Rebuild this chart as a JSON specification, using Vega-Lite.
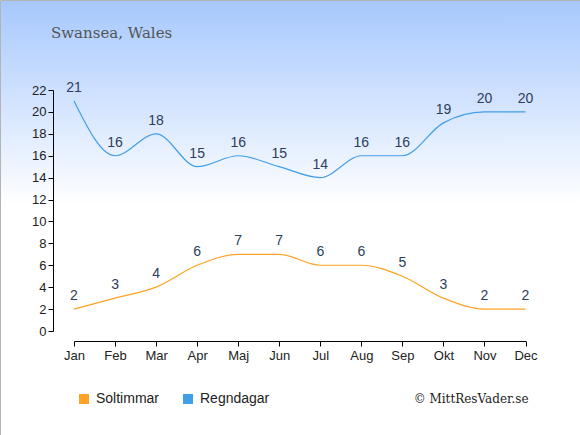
{
  "$schema": "https://vega.github.io/schema/vega-lite/v6.json",
  "width": 580,
  "height": 435,
  "autosize": {"type": "none"},
  "padding": 0,
  "background": "#ffffff",
  "view": {
    "fill": {"gradient": "linear", "x1": 0, "y1": 0, "x2": 0, "y2": 1,
      "stops": [{"offset": 0, "color": "#a6c8fe"}, {"offset": 0.47, "color": "#ffffff"}, {"offset": 1, "color": "#ffffff"}]},
    "stroke": "#b4b4b4",
    "strokeWidth": 1
  },
  "title": {
    "text": "Swansea, Wales",
    "font": "DejaVu Serif",
    "fontSize": 15,
    "fontWeight": "normal",
    "color": "#555555",
    "anchor": "start",
    "frame": "group",
    "orient": "top",
    "baseline": "alphabetic",
    "offset": -53,
    "dx": 51
  },
  "data": {
    "values": [
      {"month": "Jan", "series": "Soltimmar", "value": 2},
      {"month": "Feb", "series": "Soltimmar", "value": 3},
      {"month": "Mar", "series": "Soltimmar", "value": 4},
      {"month": "Apr", "series": "Soltimmar", "value": 6},
      {"month": "Maj", "series": "Soltimmar", "value": 7},
      {"month": "Jun", "series": "Soltimmar", "value": 7},
      {"month": "Jul", "series": "Soltimmar", "value": 6},
      {"month": "Aug", "series": "Soltimmar", "value": 6},
      {"month": "Sep", "series": "Soltimmar", "value": 5},
      {"month": "Okt", "series": "Soltimmar", "value": 3},
      {"month": "Nov", "series": "Soltimmar", "value": 2},
      {"month": "Dec", "series": "Soltimmar", "value": 2},
      {"month": "Jan", "series": "Regndagar", "value": 21},
      {"month": "Feb", "series": "Regndagar", "value": 16},
      {"month": "Mar", "series": "Regndagar", "value": 18},
      {"month": "Apr", "series": "Regndagar", "value": 15},
      {"month": "Maj", "series": "Regndagar", "value": 16},
      {"month": "Jun", "series": "Regndagar", "value": 15},
      {"month": "Jul", "series": "Regndagar", "value": 14},
      {"month": "Aug", "series": "Regndagar", "value": 16},
      {"month": "Sep", "series": "Regndagar", "value": 16},
      {"month": "Okt", "series": "Regndagar", "value": 19},
      {"month": "Nov", "series": "Regndagar", "value": 20},
      {"month": "Dec", "series": "Regndagar", "value": 20}
    ]
  },
  "encoding": {
    "x": {
      "field": "month",
      "type": "ordinal",
      "sort": ["Jan", "Feb", "Mar", "Apr", "Maj", "Jun", "Jul", "Aug", "Sep", "Okt", "Nov", "Dec"],
      "scale": {"type": "point", "range": [74, 525.5], "padding": 0},
      "axis": {
        "orient": "bottom",
        "offset": -94,
        "labelAngle": 0,
        "labelFont": "Liberation Sans",
        "labelFontSize": 13,
        "labelColor": "#222222",
        "labelPadding": 3,
        "tickSize": 5,
        "tickColor": "#000000",
        "domainColor": "#000000",
        "grid": false,
        "title": "© MittResVader.se",
        "titleFont": "DejaVu Serif",
        "titleFontSize": 12,
        "titleFontWeight": "normal",
        "titleColor": "#222222",
        "titleX": 528,
        "titleY": 61,
        "titleAlign": "right",
        "titleAnchor": "end",
        "titleBaseline": "alphabetic"
      }
    },
    "y": {
      "field": "value",
      "type": "quantitative",
      "scale": {"domain": [0, 22], "range": [331, 90], "nice": false},
      "axis": {
        "orient": "left",
        "offset": -53,
        "values": [0, 2, 4, 6, 8, 10, 12, 14, 16, 18, 20, 22],
        "labelFont": "Liberation Sans",
        "labelFontSize": 13,
        "labelColor": "#222222",
        "labelPadding": 2,
        "tickSize": 5,
        "tickColor": "#000000",
        "domainColor": "#000000",
        "grid": false,
        "title": null
      }
    },
    "color": {
      "field": "series",
      "type": "nominal",
      "scale": {"domain": ["Soltimmar", "Regndagar"], "range": ["#ffa225", "#419ee9"]},
      "legend": {
        "orient": "none",
        "legendX": 77,
        "legendY": 392,
        "direction": "horizontal",
        "title": null,
        "symbolType": "square",
        "symbolSize": 100,
        "symbolStrokeWidth": 0,
        "labelFont": "Liberation Sans",
        "labelFontSize": 14,
        "labelColor": "#222222",
        "labelOffset": 5,
        "columnPadding": 21,
        "encode": {
          "symbols": {
            "update": {
              "fill": {"scale": "color", "field": "value"},
              "stroke": {"value": "transparent"},
              "shape": {"value": "square"}
            }
          }
        }
      }
    }
  },
  "layer": [
    {"mark": {"type": "line", "interpolate": "monotone", "strokeWidth": 1.2}},
    {
      "mark": {"type": "text", "dy": -13, "font": "Liberation Sans", "fontSize": 14},
      "encoding": {
        "text": {"field": "value", "type": "quantitative"},
        "color": {"value": "#2b3e5c"}
      }
    }
  ]
}
